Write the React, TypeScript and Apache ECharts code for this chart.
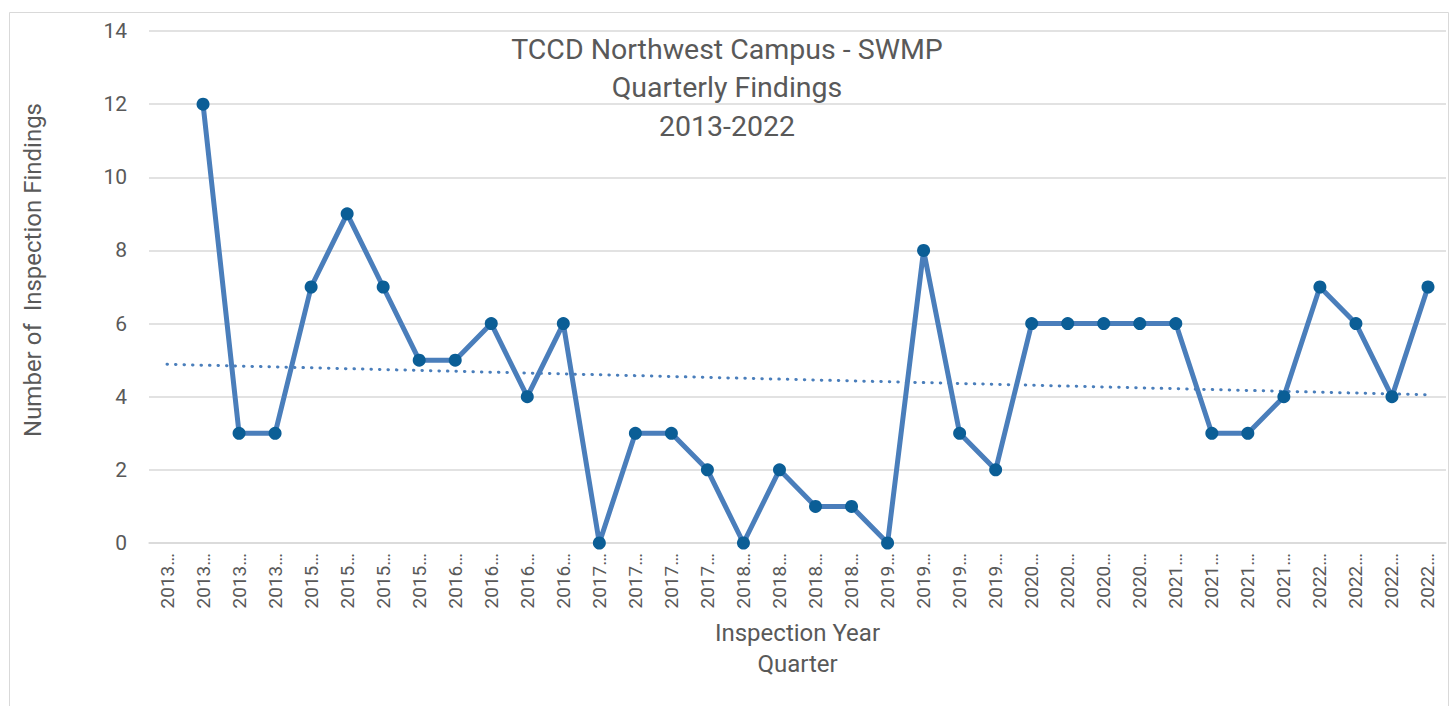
import React, { useEffect, useRef } from "react";
import * as echarts from "echarts";

const categories: string[] = [
  "2013…", "2013…", "2013…", "2013…",
  "2015…", "2015…", "2015…", "2015…",
  "2016…", "2016…", "2016…", "2016…",
  "2017…", "2017…", "2017…", "2017…",
  "2018…", "2018…", "2018…", "2018…",
  "2019…", "2019…", "2019…", "2019…",
  "2020…", "2020…", "2020…", "2020…",
  "2021…", "2021…", "2021…", "2021…",
  "2022…", "2022…", "2022…", "2022…",
];

const findings: (number | null)[] = [
  null, 12, 3, 3,
  7, 9, 7, 5,
  5, 6, 4, 6,
  0, 3, 3, 2,
  0, 2, 1, 1,
  0, 8, 3, 2,
  6, 6, 6, 6,
  6, 3, 3, 4,
  7, 6, 4, 7,
];

const yTicks = { min: 0, max: 14, interval: 2 };

const titleLines = ["TCCD Northwest Campus - SWMP", "Quarterly Findings", "2013-2022"];
const yAxisName = "Number of  Inspection Findings";
const xAxisName = "Inspection Year\nQuarter";

// Linear (least squares) trendline computed from the series, as the spreadsheet does
function trendline(vals: (number | null)[]): number[] {
  const pts: [number, number][] = [];
  vals.forEach((v, i) => {
    if (v !== null) pts.push([i, v]);
  });
  const n = pts.length;
  const mx = pts.reduce((s, p) => s + p[0], 0) / n;
  const my = pts.reduce((s, p) => s + p[1], 0) / n;
  let num = 0;
  let den = 0;
  pts.forEach(([x, y]) => {
    num += (x - mx) * (y - my);
    den += (x - mx) * (x - mx);
  });
  const slope = num / den;
  const b = my - slope * mx;
  return vals.map((_, i) => b + slope * i);
}

const FONT = "Roboto, 'Noto Sans', sans-serif";
const TEXT = "#595959";

export default function App() {
  const ref = useRef<HTMLDivElement>(null);

  useEffect(() => {
    if (!ref.current) return;
    const chart = echarts.init(ref.current, undefined, { renderer: "svg" });
    const trend = trendline(findings);
    chart.setOption({
      animation: false,
      backgroundColor: "#ffffff",
      textStyle: { fontFamily: FONT },
      title: {
        text: titleLines.join("\n"),
        left: 722,
        top: 25,
        textAlign: "center",
        textStyle: {
          fontFamily: FONT,
          fontSize: 28.5,
          fontWeight: "normal",
          color: TEXT,
          lineHeight: 38.5,
        },
      },
      graphic: [
        {
          type: "rect",
          shape: { x: 9.5, y: 12.5, width: 1439, height: 710 },
          style: { fill: "none", stroke: "#d9d9d9", lineWidth: 1 },
          silent: true,
        },
        {
          type: "text",
          x: 33,
          y: 270,
          rotation: Math.PI / 2,
          style: {
            text: yAxisName,
            fontFamily: FONT,
            fontSize: 24,
            fill: TEXT,
            align: "center",
            verticalAlign: "middle",
          },
          silent: true,
        },
      ],
      grid: { left: 149, right: 8, top: 31, bottom: 163 },
      xAxis: {
        type: "category",
        data: categories,
        boundaryGap: true,
        name: xAxisName,
        nameLocation: "middle",
        nameGap: 74,
        nameTextStyle: { fontFamily: FONT, fontSize: 24, color: TEXT, lineHeight: 31 },
        axisLine: { show: true, lineStyle: { color: "#d9d9d9", width: 1.5 } },
        axisTick: { show: false },
        axisLabel: {
          interval: 0,
          rotate: 90,
          margin: 10,
          fontFamily: FONT,
          fontSize: 19,
          color: TEXT,
        },
      },
      yAxis: {
        type: "value",
        min: yTicks.min,
        max: yTicks.max,
        interval: yTicks.interval,
        axisLine: { show: false },
        axisTick: { show: false },
        axisLabel: { fontFamily: FONT, fontSize: 21, color: TEXT, margin: 22 },
        splitLine: { lineStyle: { color: "#d9d9d9", width: 1.5 } },
      },
      series: [
        {
          name: "Findings",
          type: "line",
          data: findings,
          connectNulls: false,
          symbol: "circle",
          symbolSize: 13,
          itemStyle: { color: "#0B5E96" },
          lineStyle: { color: "#4A7EBB", width: 5 },
          z: 3,
        },
        {
          name: "Linear trend",
          type: "line",
          data: trend,
          symbol: "none",
          lineStyle: {
            color: "#4A7EBB",
            width: 3,
            type: [0.5, 8],
            cap: "round",
          },
          z: 2,
        },
      ],
    });
    return () => chart.dispose();
  }, []);

  return (
    <div
      ref={ref}
      style={{ position: "fixed", left: 0, top: 0, width: 1454, height: 706 }}
    />
  );
}
